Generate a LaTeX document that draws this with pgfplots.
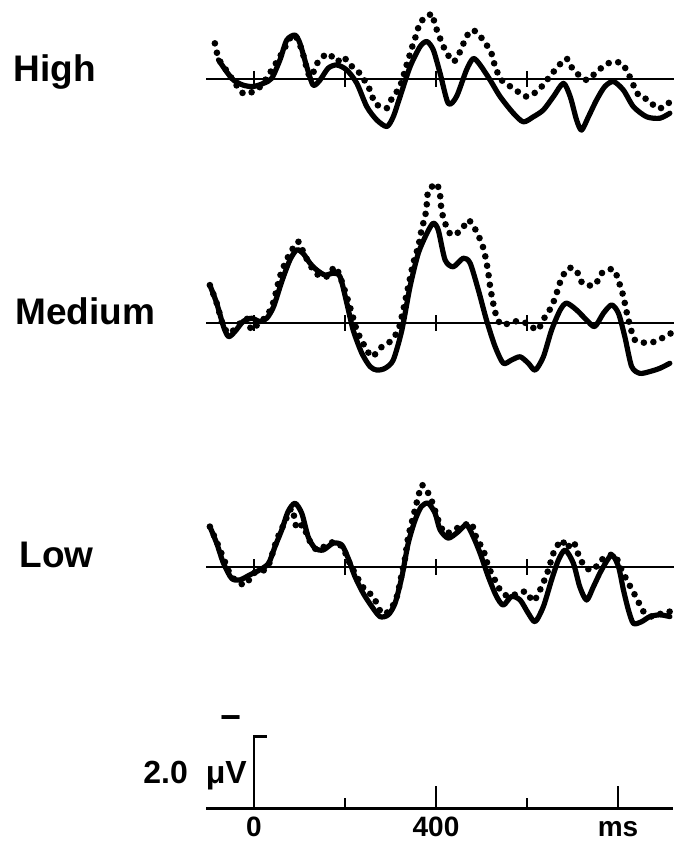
\documentclass[border=0pt]{standalone}
\usepackage{fontspec}
\setmainfont{Liberation Sans}
\usepackage{pgfplots}
\pgfplotsset{compat=1.18}

\pgfplotsset{
  erp/.style={
    x=0.2275pt, y=18pt, y dir=reverse,
    xmin=-105, xmax=922,
    axis x line=middle, axis y line=none,
    axis line style={-, line width=1.2pt, black},
    xtick={0,200,400,600}, xticklabels={},
    ytick=\empty,
    tick align=center, major tick length=8pt,
    tick style={line width=1.2pt, black},
    clip=false, anchor=center,
  },
  solidwave/.style={black, line width=2.6pt, smooth, tension=0.45, line join=round, line cap=round},
  dotwave/.style={black, line width=3.3pt, line cap=round, dash pattern=on 0pt off 4.8pt, smooth, tension=0.45},
}

\begin{document}
\begin{tikzpicture}

% ---------------- High ----------------
\begin{axis}[erp, at={(219.93pt,385.1pt)}, ymin=-2.2, ymax=1.8]
\addplot[solidwave] coordinates {
(-78,-0.53) (-60,-0.20) (-45,0.03) (-24,0.17) (-2,0.21) (21,0.12) (39,-0.02)
(57,-0.53) (72,-1.08) (90,-1.22) (101,-0.99) (116,-0.34) (130,0.17) (145,0.03)
(163,-0.30) (182,-0.39) (204,-0.25) (226,0.12) (248,0.77) (270,1.14) (292,1.32)
(306,1.05) (321,0.49) (343,-0.34) (365,-0.90) (380,-1.04) (394,-0.81) (409,-0.16)
(427,0.68) (445,0.49) (467,-0.25) (482,-0.57) (497,-0.39) (519,0.03) (541,0.49)
(570,0.95) (592,1.19) (614,1.05) (636,0.86) (658,0.49) (680,0.12) (695,0.49)
(709,1.14) (720,1.42) (735,1.05) (753,0.58) (771,0.21) (790,0.07) (812,0.31)
(834,0.77) (863,1.05) (892,1.09) (914,0.95)
};
\addplot[dotwave] coordinates {
(-86,-0.99) (-78,-0.57) (-64,-0.30) (-49,-0.02) (-24,0.40) (-2,0.35) (17,0.17)
(39,-0.25) (61,-0.71) (79,-1.13) (90,-1.22) (105,-0.81) (123,-0.06) (141,-0.48)
(163,-0.71) (182,-0.48) (196,-0.62) (211,-0.39) (226,-0.25) (240,-0.02) (255,0.31)
(266,0.68) (281,0.77) (292,0.81) (303,0.54) (314,0.35) (325,0.07) (332,-0.25)
(339,-0.53) (350,-0.99) (358,-1.27) (365,-1.59) (380,-1.69) (391,-1.82) (398,-1.50)
(409,-1.13) (420,-0.81) (438,-0.48) (453,-0.76) (467,-1.18) (482,-1.36) (504,-1.08)
(522,-0.71) (530,-0.34) (544,0.03) (570,0.26) (599,0.49) (625,0.31) (647,-0.02)
(665,-0.30) (687,-0.57) (702,-0.25) (731,0.03) (753,-0.20) (779,-0.44) (808,-0.44)
(826,-0.06) (837,0.26) (848,0.49) (867,0.58) (885,0.81) (903,0.77) (914,0.63)
};
\end{axis}

% ---------------- Medium ----------------
\begin{axis}[erp, at={(219.93pt,280.95pt)}, ymin=-4.2, ymax=1.8]
\addplot[solidwave] coordinates {
(-97,-1.06) (-82,-0.56) (-67,0.09) (-56,0.37) (-42,0.23) (-24,-0.05) (-5,-0.14)
(13,-0.05) (28,-0.14) (43,-0.46) (61,-1.16) (79,-1.76) (94,-2.04) (108,-1.94)
(123,-1.67) (138,-1.48) (156,-1.34) (174,-1.39) (189,-1.30) (204,-0.56) (218,0.19)
(237,0.83) (255,1.20) (270,1.30) (288,1.25) (306,1.02) (325,0.19) (343,-1.02)
(361,-1.94) (380,-2.50) (394,-2.78) (405,-2.59) (420,-1.76) (438,-1.57) (460,-1.81)
(475,-1.67) (493,-0.93) (511,-0.09) (530,0.65) (548,1.11) (566,1.02) (585,0.93)
(603,1.11) (618,1.30) (636,0.93) (654,0.19) (673,-0.37) (687,-0.56) (709,-0.37)
(731,-0.09) (749,0.09) (768,-0.28) (786,-0.51) (801,-0.28) (815,0.37) (830,1.20)
(848,1.39) (870,1.34) (892,1.25) (914,1.11)
};
\addplot[dotwave] coordinates {
(-97,-1.06) (-82,-0.56) (-67,0.09) (-53,0.28) (-38,0.09) (-16,-0.14) (-5,0.19)
(13,-0.05) (28,-0.19) (43,-0.60) (57,-1.30) (75,-1.85) (97,-2.27) (108,-1.99)
(123,-1.62) (141,-1.34) (160,-1.30) (178,-1.57) (189,-1.30) (204,-0.74) (215,-0.28)
(226,0.19) (240,0.56) (259,0.93) (277,0.69) (299,0.51) (317,0.19) (328,-0.37)
(339,-1.02) (350,-1.67) (361,-2.13) (369,-2.64) (376,-2.96) (380,-3.33) (383,-3.66)
(401,-3.89) (409,-3.56) (412,-3.15) (420,-2.78) (434,-2.45) (456,-2.59) (471,-2.87)
(489,-2.55) (503,-2.13) (510,-1.76) (515,-1.39) (519,-1.02) (525,-0.60) (532,-0.23)
(544,0.05) (570,-0.05) (588,-0.05) (607,0.05) (623,0.19) (640,-0.19) (654,-0.46)
(665,-0.83) (676,-1.25) (691,-1.53) (708,-1.48) (722,-1.11) (749,-1.06) (764,-1.39)
(790,-1.50) (803,-1.11) (812,-0.74) (818,-0.37) (826,0.05) (837,0.46) (859,0.54)
(881,0.51) (903,0.37) (916,0.28)
};
\end{axis}

% ---------------- Low ----------------
\begin{axis}[erp, at={(219.93pt,144.55pt)}, ymin=-2.6, ymax=1.8]
\addplot[solidwave] coordinates {
(-97,-1.13) (-82,-0.67) (-67,-0.11) (-49,0.31) (-31,0.35) (-9,0.21) (13,0.07)
(32,-0.11) (46,-0.57) (61,-1.04) (75,-1.55) (90,-1.78) (105,-1.50) (119,-0.85)
(134,-0.53) (152,-0.48) (174,-0.67) (193,-0.62) (207,-0.25) (222,0.26) (240,0.72)
(259,1.09) (277,1.37) (295,1.32) (310,1.00) (325,0.26) (339,-0.67) (354,-1.31)
(368,-1.69) (383,-1.78) (398,-1.50) (409,-1.04) (427,-0.81) (449,-0.99) (467,-1.18)
(482,-0.85) (497,-0.39) (515,0.26) (533,0.81) (548,1.05) (566,0.81) (585,0.91)
(603,1.28) (618,1.51) (636,1.09) (654,0.35) (669,-0.20) (684,-0.48) (702,-0.11)
(716,0.54) (731,0.91) (746,0.54) (764,0.07) (786,-0.34) (801,-0.02) (812,0.63)
(823,1.19) (834,1.56) (852,1.51) (870,1.37) (892,1.32) (914,1.37)
};
\addplot[dotwave] coordinates {
(-97,-1.13) (-82,-0.71) (-67,-0.25) (-49,0.26) (-20,0.49) (-2,0.17) (17,0.12)
(32,-0.06) (50,-0.76) (65,-1.18) (83,-1.64) (94,-1.08) (108,-1.18) (119,-0.81)
(138,-0.48) (160,-0.62) (178,-0.71) (196,-0.53) (207,-0.20) (226,0.26) (244,0.63)
(262,0.81) (281,1.28) (299,1.19) (314,0.81) (325,0.17) (332,-0.25) (339,-0.85)
(350,-1.41) (361,-1.96) (369,-2.29) (383,-2.06) (394,-1.73) (405,-1.31) (420,-0.94)
(445,-1.08) (464,-1.18) (478,-1.22) (489,-0.81) (504,-0.48) (515,-0.02) (526,0.26)
(541,0.63) (559,0.81) (581,0.72) (599,0.68) (614,0.95) (632,0.54) (647,0.07)
(658,-0.39) (676,-0.76) (687,-0.53) (702,-0.71) (716,-0.25) (731,0.03) (746,0.07)
(760,-0.16) (775,-0.30) (793,-0.34) (808,0.07) (823,0.44) (841,0.86) (856,1.23)
(874,1.37) (896,1.28) (914,1.23)
};
\end{axis}

% ---------------- Scale ----------------
\begin{axis}[erp, at={(219.93pt,34.85pt)}, ymin=-2.2, ymax=0.2,
  xtick={0,400,800}, xticklabels={0,400,ms}, major tick length=0pt,
  xticklabel style={font=\bfseries\fontsize{14pt}{14pt}\selectfont, anchor=base, yshift=-14pt}]
\addplot[black, line width=1.4pt, line join=miter] coordinates {(28,-2.0) (0,-2.0) (0,0)};
\addplot[black, line width=1.2pt] coordinates {(200,0) (200,-0.30)};
\addplot[black, line width=1.2pt] coordinates {(400,0) (400,-0.63)};
\addplot[black, line width=1.2pt] coordinates {(600,0) (600,-0.30)};
\addplot[black, line width=1.2pt] coordinates {(800,0) (800,-0.63)};
\node[anchor=base east, inner sep=0pt, font=\bfseries\fontsize{16pt}{16pt}\selectfont] at (axis cs:-15,-0.70) {2.0\hspace{9pt}μV};
\node[inner sep=0pt, font=\bfseries\fontsize{18pt}{18pt}\selectfont] at (axis cs:-50,-2.38) {−};
\end{axis}

% ---------------- Row labels ----------------
\node[anchor=base west, inner sep=0pt, font=\bfseries\fontsize{18.5pt}{18.5pt}\selectfont] at (6.5pt,380pt) {High};
\node[anchor=base west, inner sep=0pt, font=\bfseries\fontsize{18.5pt}{18.5pt}\selectfont] at (7.5pt,258.5pt) {Medium};
\node[anchor=base west, inner sep=0pt, font=\bfseries\fontsize{18.5pt}{18.5pt}\selectfont] at (9.5pt,137pt) {Low};

\pgfresetboundingbox
\useasboundingbox (0,0) rectangle (338.5pt,421pt);
\end{tikzpicture}
\end{document}
